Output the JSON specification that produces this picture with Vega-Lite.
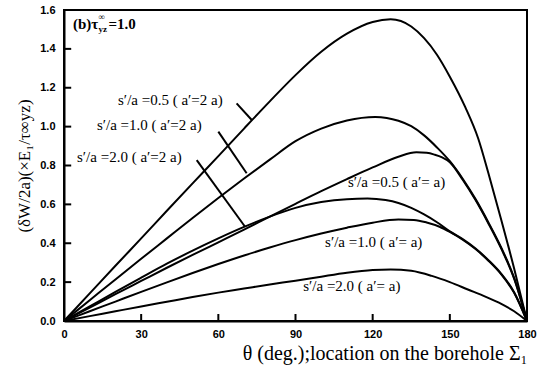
{
  "$schema": "https://vega.github.io/schema/vega-lite/v6.json",
  "width": 463,
  "height": 311,
  "autosize": {"type": "none"},
  "padding": {"left": 64, "top": 10, "right": 21, "bottom": 46},
  "background": "white",
  "config": {
    "view": {"stroke": "black", "strokeWidth": 2},
    "axis": {
      "domainColor": "black", "domainWidth": 2, "ticks": false,
      "grid": false, "labelFont": "Liberation Sans", "labelFontWeight": "bold", "labelFontSize": 11,
      "labelColor": "black", "titleColor": "black", "titleFont": "Liberation Serif", "titleFontWeight": "normal",
      "labelOverlap": false
    },
    "axisY": {"labelOverlap": false}
  },
  "datasets": {
    "curves": [
      {"s":"A","t":0,"v":0},{"s":"A","t":10,"v":0.142},{"s":"A","t":20,"v":0.284},{"s":"A","t":30,"v":0.425},{"s":"A","t":40,"v":0.567},{"s":"A","t":50,"v":0.708},{"s":"A","t":60,"v":0.848},{"s":"A","t":70,"v":0.99},{"s":"A","t":80,"v":1.13},{"s":"A","t":90,"v":1.265},{"s":"A","t":100,"v":1.385},{"s":"A","t":110,"v":1.478},{"s":"A","t":120,"v":1.538},{"s":"A","t":127,"v":1.552},{"s":"A","t":135,"v":1.515},{"s":"A","t":140,"v":1.455},{"s":"A","t":145,"v":1.37},{"s":"A","t":150,"v":1.257},{"s":"A","t":156,"v":1.1},{"s":"A","t":161,"v":0.94},{"s":"A","t":165,"v":0.76},{"s":"A","t":170,"v":0.52},{"s":"A","t":175,"v":0.27},{"s":"A","t":180,"v":0},
      {"s":"B","t":0,"v":0},{"s":"B","t":10,"v":0.107},{"s":"B","t":20,"v":0.214},{"s":"B","t":30,"v":0.32},{"s":"B","t":40,"v":0.425},{"s":"B","t":50,"v":0.53},{"s":"B","t":60,"v":0.633},{"s":"B","t":70,"v":0.733},{"s":"B","t":80,"v":0.83},{"s":"B","t":90,"v":0.925},{"s":"B","t":100,"v":0.99},{"s":"B","t":110,"v":1.032},{"s":"B","t":121,"v":1.05},{"s":"B","t":130,"v":1.03},{"s":"B","t":135,"v":1.002},{"s":"B","t":140,"v":0.955},{"s":"B","t":145,"v":0.893},{"s":"B","t":150,"v":0.822},{"s":"B","t":155,"v":0.732},{"s":"B","t":160,"v":0.627},{"s":"B","t":165,"v":0.507},{"s":"B","t":170,"v":0.377},{"s":"B","t":175,"v":0.222},{"s":"B","t":180,"v":0},
      {"s":"C","t":0,"v":0},{"s":"C","t":10,"v":0.069},{"s":"C","t":20,"v":0.138},{"s":"C","t":30,"v":0.206},{"s":"C","t":40,"v":0.274},{"s":"C","t":50,"v":0.34},{"s":"C","t":60,"v":0.405},{"s":"C","t":70,"v":0.47},{"s":"C","t":80,"v":0.537},{"s":"C","t":90,"v":0.603},{"s":"C","t":100,"v":0.668},{"s":"C","t":110,"v":0.73},{"s":"C","t":120,"v":0.79},{"s":"C","t":130,"v":0.845},{"s":"C","t":137,"v":0.868},{"s":"C","t":141,"v":0.865},{"s":"C","t":144,"v":0.856},{"s":"C","t":147,"v":0.842},{"s":"C","t":150,"v":0.817},{"s":"C","t":155,"v":0.727},{"s":"C","t":160,"v":0.622},{"s":"C","t":165,"v":0.502},{"s":"C","t":170,"v":0.372},{"s":"C","t":175,"v":0.218},{"s":"C","t":180,"v":0},
      {"s":"D","t":0,"v":0},{"s":"D","t":10,"v":0.075},{"s":"D","t":20,"v":0.15},{"s":"D","t":30,"v":0.223},{"s":"D","t":40,"v":0.295},{"s":"D","t":50,"v":0.362},{"s":"D","t":60,"v":0.425},{"s":"D","t":70,"v":0.484},{"s":"D","t":80,"v":0.537},{"s":"D","t":90,"v":0.582},{"s":"D","t":100,"v":0.612},{"s":"D","t":110,"v":0.627},{"s":"D","t":118,"v":0.63},{"s":"D","t":125,"v":0.622},{"s":"D","t":130,"v":0.607},{"s":"D","t":135,"v":0.582},{"s":"D","t":140,"v":0.548},{"s":"D","t":145,"v":0.508},{"s":"D","t":150,"v":0.461},{"s":"D","t":155,"v":0.421},{"s":"D","t":160,"v":0.373},{"s":"D","t":165,"v":0.313},{"s":"D","t":170,"v":0.243},{"s":"D","t":175,"v":0.148},{"s":"D","t":180,"v":0},
      {"s":"E","t":0,"v":0},{"s":"E","t":10,"v":0.05},{"s":"E","t":20,"v":0.1},{"s":"E","t":30,"v":0.15},{"s":"E","t":40,"v":0.199},{"s":"E","t":50,"v":0.247},{"s":"E","t":60,"v":0.293},{"s":"E","t":70,"v":0.337},{"s":"E","t":80,"v":0.378},{"s":"E","t":90,"v":0.416},{"s":"E","t":100,"v":0.45},{"s":"E","t":110,"v":0.48},{"s":"E","t":120,"v":0.506},{"s":"E","t":130,"v":0.522},{"s":"E","t":136,"v":0.52},{"s":"E","t":141,"v":0.507},{"s":"E","t":146,"v":0.485},{"s":"E","t":150,"v":0.458},{"s":"E","t":155,"v":0.418},{"s":"E","t":160,"v":0.37},{"s":"E","t":165,"v":0.31},{"s":"E","t":170,"v":0.24},{"s":"E","t":175,"v":0.145},{"s":"E","t":180,"v":0},
      {"s":"F","t":0,"v":0},{"s":"F","t":10,"v":0.025},{"s":"F","t":20,"v":0.05},{"s":"F","t":30,"v":0.075},{"s":"F","t":40,"v":0.099},{"s":"F","t":50,"v":0.123},{"s":"F","t":60,"v":0.146},{"s":"F","t":70,"v":0.167},{"s":"F","t":80,"v":0.188},{"s":"F","t":90,"v":0.207},{"s":"F","t":100,"v":0.228},{"s":"F","t":110,"v":0.248},{"s":"F","t":120,"v":0.262},{"s":"F","t":127,"v":0.265},{"s":"F","t":135,"v":0.258},{"s":"F","t":143,"v":0.232},{"s":"F","t":150,"v":0.2},{"s":"F","t":157,"v":0.162},{"s":"F","t":164,"v":0.124},{"s":"F","t":170,"v":0.088},{"s":"F","t":175,"v":0.05},{"s":"F","t":180,"v":0}
    ],
    "leaders": [
      {"t1":67.1,"v1":1.12,"t2":73,"v2":1.034},
      {"t1":60,"v1":0.974,"t2":71,"v2":0.76},
      {"t1":51.6,"v1":0.828,"t2":70.4,"v2":0.485}
    ],
    "labels": [
      {"label":"s′/a =0.5 ( a′=2 a)","t":21,"v":1.137},
      {"label":"s′/a =1.0 ( a′=2 a)","t":12.8,"v":1.008},
      {"label":"s′/a =2.0 ( a′=2 a)","t":5.05,"v":0.844},
      {"label":"s′/a =0.5 ( a′= a)","t":110.4,"v":0.717},
      {"label":"s′/a =1.0 ( a′= a)","t":101.5,"v":0.408},
      {"label":"s′/a =2.0 ( a′= a)","t":93,"v":0.18}
    ],
    "head": [
      {"label":"(b)τ","t":3.5,"v":1.528},
      {"label":"=1.0","t":17.3,"v":1.528}
    ],
    "scripts": [
      {"label":"∞","t":13.4,"v":1.562},
      {"label":"yz","t":13.4,"v":1.5}
    ],
    "xticks": [{"t":30},{"t":60},{"t":90},{"t":120},{"t":150}],
    "yticks": [{"v":0.2},{"v":0.4},{"v":0.6},{"v":0.8},{"v":1.0},{"v":1.2},{"v":1.4}]
  },
  "layer": [
    {
      "data": {"name": "curves"},
      "mark": {"type": "line", "color": "black", "strokeWidth": 2, "interpolate": "monotone"},
      "encoding": {
        "x": {"field": "t", "type": "quantitative",
          "scale": {"domain": [0, 180], "nice": false},
          "axis": {"values": [0,30,60,90,120,150,180], "labelPadding": 7, "labelFlush": false, "labelOverlap": false,
            "title": "θ (deg.);location on the borehole Σ₁", "titleFontSize": 20, "titleAnchor": "end", "titlePadding": 4}},
        "y": {"field": "v", "type": "quantitative",
          "scale": {"domain": [0, 1.6], "nice": false},
          "axis": {"tickCount": 8, "format": ".1f", "labelPadding": 9, "labelFlush": false, "labelOverlap": false, "labelSeparation": 0,
            "title": "(δW/2a)(×E₁/τ∞yz)", "titleFontSize": 17, "titlePadding": 6}},
        "detail": {"field": "s"}
      }
    },
    {
      "data": {"name": "xticks"},
      "mark": {"type": "rule", "color": "black", "strokeWidth": 2},
      "encoding": {
        "x": {"field": "t", "type": "quantitative"},
        "y": {"datum": 0},
        "y2": {"datum": 0.036}
      }
    },
    {
      "data": {"name": "yticks"},
      "mark": {"type": "rule", "color": "black", "strokeWidth": 2},
      "encoding": {
        "y": {"field": "v", "type": "quantitative"},
        "x": {"datum": 0},
        "x2": {"datum": 2.8}
      }
    },
    {
      "data": {"name": "leaders"},
      "mark": {"type": "rule", "color": "black", "strokeWidth": 2},
      "encoding": {
        "x": {"field": "t1", "type": "quantitative"},
        "y": {"field": "v1", "type": "quantitative"},
        "x2": {"field": "t2"},
        "y2": {"field": "v2"}
      }
    },
    {
      "data": {"name": "labels"},
      "mark": {"type": "text", "align": "left", "baseline": "middle", "font": "Liberation Serif", "fontSize": 15, "color": "black"},
      "encoding": {
        "x": {"field": "t", "type": "quantitative"},
        "y": {"field": "v", "type": "quantitative"},
        "text": {"field": "label"}
      }
    },
    {
      "data": {"name": "head"},
      "mark": {"type": "text", "align": "left", "baseline": "middle", "font": "Liberation Serif", "fontWeight": "bold", "fontSize": 15, "color": "black"},
      "encoding": {
        "x": {"field": "t", "type": "quantitative"},
        "y": {"field": "v", "type": "quantitative"},
        "text": {"field": "label"}
      }
    },
    {
      "data": {"name": "scripts"},
      "mark": {"type": "text", "align": "left", "baseline": "middle", "font": "Liberation Serif", "fontWeight": "bold", "fontSize": 9, "color": "black"},
      "encoding": {
        "x": {"field": "t", "type": "quantitative"},
        "y": {"field": "v", "type": "quantitative"},
        "text": {"field": "label"}
      }
    }
  ]
}
